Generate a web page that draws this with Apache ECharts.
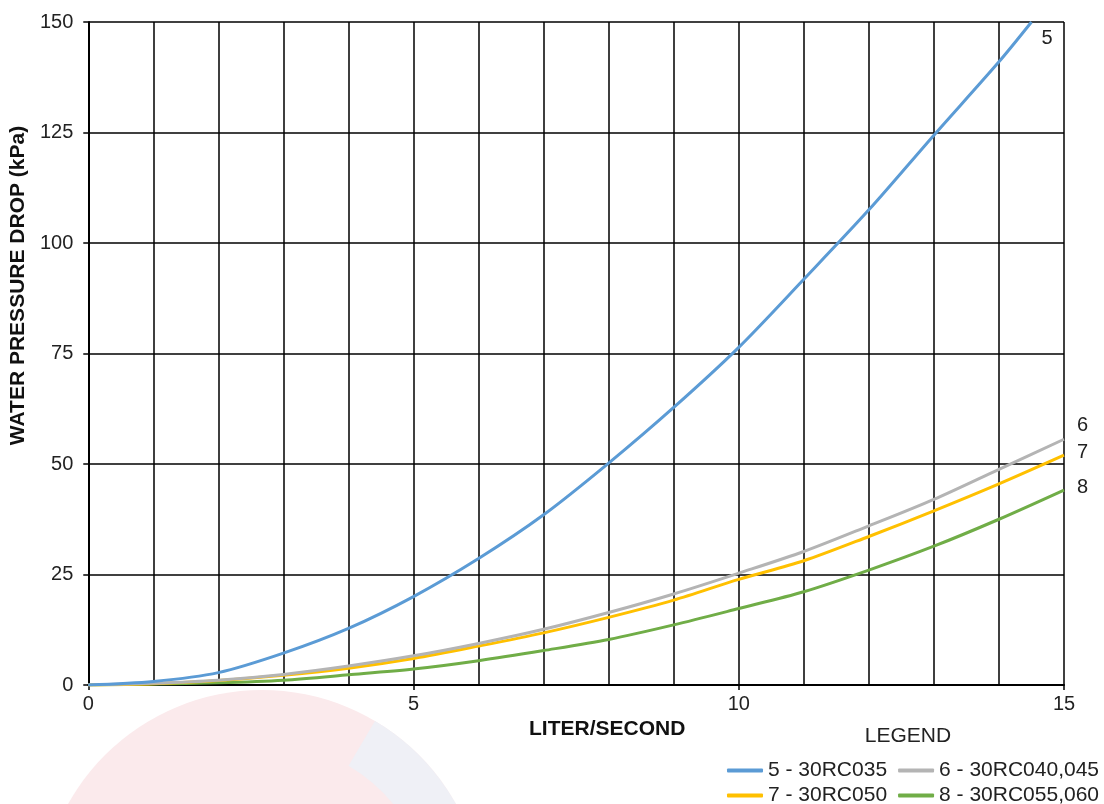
<!DOCTYPE html>
<html>
<head>
<meta charset="utf-8">
<script src="https://cdn.jsdelivr.net/npm/echarts@6/dist/echarts.min.js"></script>
<style>
  html, body { margin: 0; padding: 0; background: #fff; }
  #chart { width: 1104px; height: 804px; }
</style>
</head>
<body>
<div id="chart"></div>
<script>
// flow (l/s) and pressure drop (kPa)
const flow = [0, 1, 2, 3, 4, 5, 6, 7, 8, 9, 10, 11, 12, 13, 14, 15];
const flowTop = [0, 1, 2, 3, 4, 5, 6, 7, 8, 9, 10, 11, 12, 13, 14, 14.5];
const drop5 = [0, 0.8, 2.8, 7.2, 12.8, 20, 28.6, 38.5, 50.2, 62.8, 76.4, 91.8, 107.5, 124.4, 141, 150];
const drop6 = [0, 0.4, 1.1, 2.4, 4.3, 6.6, 9.4, 12.6, 16.4, 20.6, 25.3, 30.2, 36, 42, 48.8, 55.6];
const drop7 = [0, 0.3, 1.0, 2.2, 3.8, 6.0, 8.8, 11.8, 15.3, 19.2, 23.9, 28.1, 33.6, 39.4, 45.5, 52];
const drop8 = [0, 0.2, 0.5, 1.1, 2.3, 3.6, 5.5, 7.8, 10.3, 13.6, 17.3, 21.1, 26, 31.4, 37.5, 44.1];

const seriesNames = ["5 - 30RC035", "6 - 30RC040,045", "7 - 30RC050", "8 - 30RC055,060"];
const endTags = ["5", "6", "7", "8"];
const colors = ["#5b9bd5", "#b4b4b4", "#ffc000", "#70ad47"];

const font = 'Arial, "Liberation Sans", sans-serif';
const pairs = (xs, ys) => ys.map((y, i) => [xs[i], y]);

let chart = echarts.init(document.getElementById("chart"));

const endOffsets = [[2, 16], [5, -14], [5, -3], [5, -3]];
const curves = [pairs(flowTop, drop5), pairs(flow, drop6), pairs(flow, drop7), pairs(flow, drop8)];

let series = curves.map((d, i) => ({
    name: seriesNames[i],
    type: "line",
    data: d,
    smooth: 0.3,
    symbol: "none",
    z: 10 - i,
    lineStyle: { color: colors[i], width: 3 },
    itemStyle: { color: colors[i] },
    endLabel: {
        show: true,
        formatter: endTags[i],
        offset: endOffsets[i],
        fontSize: 20,
        fontFamily: font,
        color: "#222"
    }
}));

const legendBase = {
    left: 722,
    width: 460,
    itemWidth: 36,
    itemHeight: 4,
    itemGap: 11,
    icon: "roundRect",
    textStyle: { fontSize: 21, fontFamily: font, color: "#222" }
};

let option = {
    backgroundColor: "#fff",
    animation: false,
    color: colors,
    grid: { left: 85, right: 40, top: 22, bottom: 119 },
    graphic: [
        // faded logo behind the bottom area
        {
            type: "circle",
            z: -10,
            shape: { cx: 262, cy: 912, r: 222 },
            style: { fill: "#fbeaec" }
        },
        {
            type: "sector",
            z: -9,
            shape: { cx: 262, cy: 912, r: 222, r0: 170, startAngle: -Math.PI * 0.33, endAngle: -Math.PI * 0.08 },
            style: { fill: "#eff0f6" }
        },
        {
            type: "rect",
            z: -11,
            shape: { x: 0, y: 690, width: 76, height: 114 },
            style: { fill: "#fff" }
        },
        {
            type: "text",
            x: 908,
            y: 736,
            style: {
                text: "LEGEND",
                fontSize: 21,
                fontFamily: font,
                fill: "#222",
                align: "center",
                verticalAlign: "middle"
            }
        }
    ],
    legend: [
        Object.assign({}, legendBase, { top: 755, data: [seriesNames[0], seriesNames[1]] }),
        Object.assign({}, legendBase, { top: 780, data: [seriesNames[2], seriesNames[3]] })
    ],
    xAxis: {
        type: "value",
        min: 0,
        max: 15,
        interval: 5,
        name: "LITER/SECOND",
        nameLocation: "middle",
        nameGap: 34,
        nameTextStyle: {
            fontSize: 21,
            fontWeight: "bold",
            fontFamily: font,
            color: "#111",
            padding: [0, 0, 0, 62]
        },
        axisLine: { show: true, lineStyle: { color: "#000", width: 2 } },
        axisTick: { show: true, length: 5, lineStyle: { color: "#000", width: 1.5 } },
        axisLabel: { fontSize: 20, fontFamily: font, color: "#222", margin: 9 },
        splitLine: { show: true, lineStyle: { color: "#000", width: 1.5 } },
        minorTick: { show: false, splitNumber: 5 },
        minorSplitLine: { show: true, lineStyle: { color: "#000", width: 1.5 } }
    },
    yAxis: {
        type: "value",
        min: 0,
        max: 150,
        interval: 25,
        name: "WATER PRESSURE DROP (kPa)",
        nameLocation: "middle",
        nameGap: 53,
        nameTextStyle: {
            fontSize: 21,
            fontWeight: "bold",
            fontFamily: font,
            color: "#111",
            padding: [0, 0, 0, 136]
        },
        axisLine: { show: true, lineStyle: { color: "#000", width: 2 } },
        axisTick: { show: true, length: 5, lineStyle: { color: "#000", width: 1.5 } },
        axisLabel: { fontSize: 20, fontFamily: font, color: "#222", margin: 15 },
        splitLine: { show: true, lineStyle: { color: "#000", width: 1.5 } }
    },
    series: series
};

chart.setOption(option);
</script>
</body>
</html>
